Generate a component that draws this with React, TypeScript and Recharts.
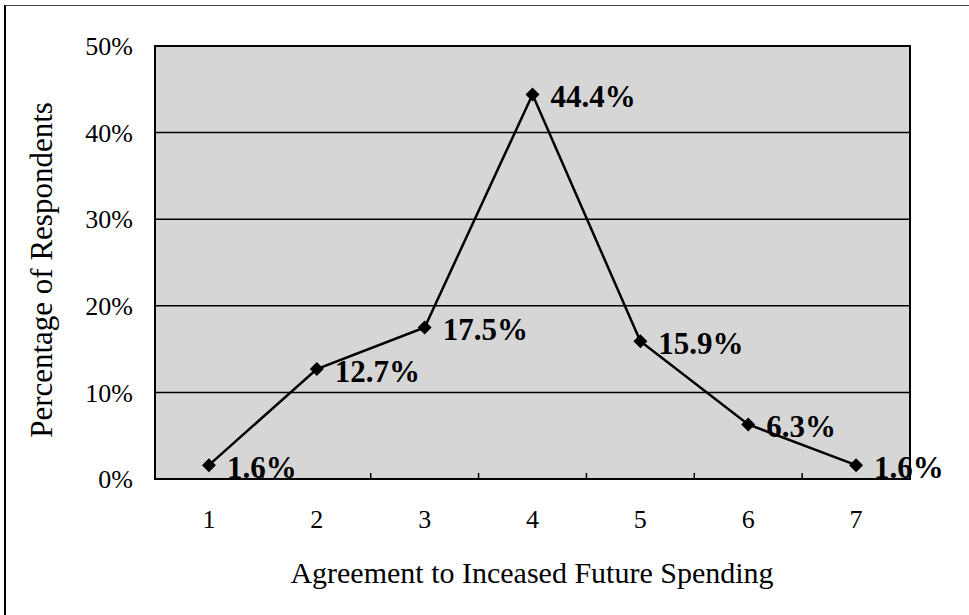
import { CartesianGrid, Label, LabelList, Line, LineChart, ReferenceArea, ReferenceLine, XAxis, YAxis } from 'recharts';

const agreementLevels = [1, 2, 3, 4, 5, 6, 7];
const respondentShares = [1.6, 12.7, 17.5, 44.4, 15.9, 6.3, 1.6];
const percentTicks = [0, 10, 20, 30, 40, 50];
const bandEdges = [1.5, 2.5, 3.5, 4.5, 5.5, 6.5];

const data = agreementLevels.map((level, i) => ({ level, share: respondentShares[i] }));

const serif = "'Times New Roman', 'Liberation Serif', serif";

function Diamond(props: any) {
  const { cx, cy } = props;
  if (cx == null || cy == null) return null;
  const r = 7;
  return (
    <polygon
      points={`${cx},${cy - r} ${cx + r},${cy} ${cx},${cy + r} ${cx - r},${cy}`}
      fill="#000"
    />
  );
}

function ShareLabel(props: any) {
  const { x, y, value } = props;
  return (
    <text
      x={x + 18}
      y={y + 2}
      dominantBaseline="central"
      fontFamily={serif}
      fontWeight="bold"
      fontSize={31}
      fill="#000"
    >
      {value.toFixed(1)}%
    </text>
  );
}

export default function App() {
  return (
    <div
      style={{
        position: 'absolute',
        left: 0,
        top: 0,
        width: 969,
        height: 615,
        background: '#fff',
      }}
    >
      <div
        style={{
          position: 'absolute',
          left: 4,
          top: 5,
          right: 0,
          bottom: 0,
          borderLeft: '2px solid #000',
          borderTop: '1px solid #444',
        }}
      />
      <LineChart width={969} height={615} data={data} margin={{ top: 46, right: 59, left: 0, bottom: 0 }}>
        <CartesianGrid vertical={false} stroke="#000" strokeWidth={1.5} fill="#d6d6d6" fillOpacity={1} />
        <XAxis
          dataKey="level"
          type="number"
          domain={[0.5, 7.5]}
          ticks={agreementLevels}
          height={136}
          axisLine={false}
          tickLine={false}
          tickMargin={25}
          tick={{ fontSize: 26, fill: '#000', fontFamily: serif }}
        >
          <Label
            content={() => (
              <text x={532} y={583} textAnchor="middle" fontFamily={serif} fontSize={30} fill="#000">
                Agreement to Inceased Future Spending
              </text>
            )}
          />
        </XAxis>
        <YAxis
          type="number"
          domain={[0, 50]}
          ticks={percentTicks}
          width={155}
          axisLine={false}
          tickLine={false}
          tickMargin={16}
          tickFormatter={(v) => `${v}%`}
          tick={{ fontSize: 26, fill: '#000', fontFamily: serif }}
        >
          <Label
            content={() => (
              <text
                x={52}
                y={270}
                transform="rotate(-90 52 270)"
                textAnchor="middle"
                fontFamily={serif}
                fontSize={31}
                fill="#000"
              >
                Percentage of Respondents
              </text>
            )}
          />
        </YAxis>
        {bandEdges.map((edge) => (
          <ReferenceLine
            key={edge}
            segment={[
              { x: edge, y: 0 },
              { x: edge, y: 0.7 },
            ]}
            stroke="#000"
            strokeWidth={1.5}
          />
        ))}
        <ReferenceArea x1={0.5} x2={7.5} y1={0} y2={50} fill="none" stroke="#000" strokeWidth={2} />
        <Line
          type="linear"
          dataKey="share"
          stroke="#000"
          strokeWidth={2.5}
          dot={<Diamond />}
          activeDot={false}
          isAnimationActive={false}
        >
          <LabelList dataKey="share" content={<ShareLabel />} />
        </Line>
      </LineChart>
    </div>
  );
}
